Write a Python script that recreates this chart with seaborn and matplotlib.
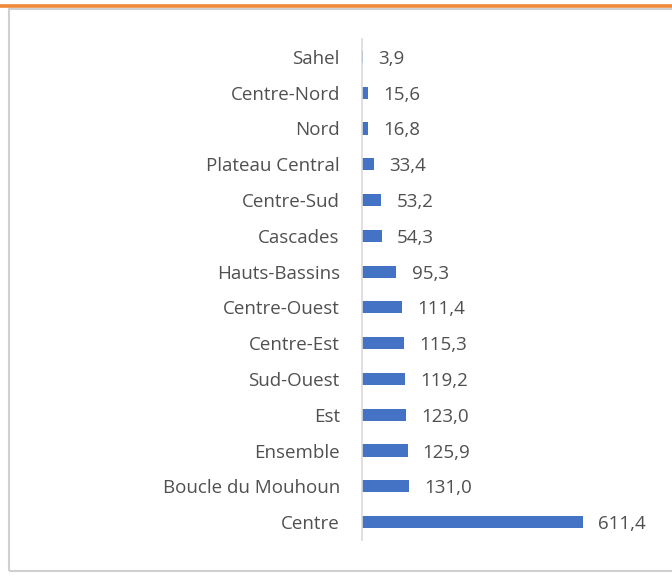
import matplotlib
matplotlib.use("Agg")
import matplotlib.pyplot as plt
import seaborn as sns
import pandas as pd
from matplotlib.patches import Rectangle
from matplotlib.lines import Line2D

regions = ["Sahel", "Centre-Nord", "Nord", "Plateau Central", "Centre-Sud", "Cascades",
           "Hauts-Bassins", "Centre-Ouest", "Centre-Est", "Sud-Ouest", "Est", "Ensemble",
           "Boucle du Mouhoun", "Centre"]
values = [3.9, 15.6, 16.8, 33.4, 53.2, 54.3, 95.3, 111.4, 115.3, 119.2, 123.0, 125.9, 131.0, 611.4]

df = pd.DataFrame({"region": regions, "value": values})

sns.set_theme(style="white")
plt.rcParams['font.family'] = ['Open Sans', 'DejaVu Sans']

fig = plt.figure(figsize=(6.72, 5.8), dpi=100)
ax = fig.add_axes([362/672, 40/580, 300/672, 501/580])

sns.barplot(data=df, y="region", x="value", color="#4472C4", width=0.34,
            saturation=1, ax=ax, orient="h", linewidth=0)

ax.set_xlim(0, 830)
ax.set_ylim(13.5, -0.5)
ax.set_xlabel("")
ax.set_ylabel("")
ax.set_xticks([])
for s in ["top", "right", "bottom"]:
    ax.spines[s].set_visible(False)
ax.spines["left"].set_color("#d9d9d9")
ax.spines["left"].set_linewidth(1.2)
ax.tick_params(axis="y", length=0, pad=16, labelsize=13.5, labelcolor="#505050")

for i, v in enumerate(values):
    ax.annotate(f"{v:.1f}".replace(".", ","), xy=(v, i), xytext=(11, 0),
                textcoords="offset points", va="center_baseline", ha="left",
                fontsize=13.5, color="#505050")

# outer frame and orange rule
fig.add_artist(Rectangle((9/672, 9/580), 1.0, 562/580, transform=fig.transFigure,
                         fill=False, edgecolor="#d0d0d0", linewidth=1.5))
fig.add_artist(Line2D([0, 1], [1 - 5.8/580, 1 - 5.8/580], transform=fig.transFigure,
                      color="#F08A3A", linewidth=2.6))

fig.savefig("out.png", dpi=100)
